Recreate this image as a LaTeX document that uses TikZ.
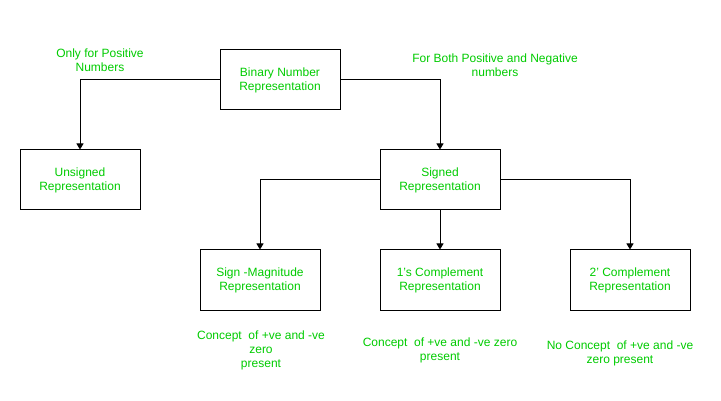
\documentclass[tikz,border=0pt]{standalone}
\usepackage{fontspec}
\setmainfont{Liberation Sans}
\usetikzlibrary{arrows.meta}
\definecolor{lbl}{HTML}{00CC00}
\begin{document}
\begin{tikzpicture}[x=1pt,y=-1pt,
  box/.style={draw=black, line width=1pt, minimum width=120pt, minimum height=60pt,
    inner sep=0pt, align=center, text=lbl, font=\fontsize{12}{14}\selectfont},
  note/.style={align=center, text=lbl, inner sep=0pt, font=\fontsize{12}{14}\selectfont},
  conn/.style={draw=black, line width=1pt, -{Triangle[width=7pt,length=6pt]}}]
\useasboundingbox[fill=white] (0,0) rectangle (721,401);
\node[box] (bin) at (280,80) {Binary Number\\Representation};
\node[box] (uns) at (80,180) {Unsigned\\Representation};
\node[box] (sig) at (440,180) {Signed\\Representation};
\node[box] (sm) at (260,280) {Sign -Magnitude\\Representation};
\node[box] (oc) at (440,280) {1's Complement\\Representation};
\node[box] (tc) at (630,280) {2' Complement\\Representation};
\node[note] (n1) at (100,60) {Only for Positive\\Numbers};
\node[note] (n2) at (495,65) {For Both Positive and Negative\\numbers};
\node[note] (n3) at (261,350) {Concept\ \ of +ve and -ve\\zero\\present};
\node[note] (n4) at (440,350) {Concept\ \ of +ve and -ve zero\\present};
\node[note] (n5) at (620,353) {No Concept\ \ of +ve and -ve\\zero present};
\draw[conn] (bin.west) -| (uns.north);
\draw[conn] (bin.east) -| (sig.north);
\draw[conn] (sig.west) -| (sm.north);
\draw[conn] (sig.south) -- (oc.north);
\draw[conn] (sig.east) -| (tc.north);
\end{tikzpicture}
\end{document}
